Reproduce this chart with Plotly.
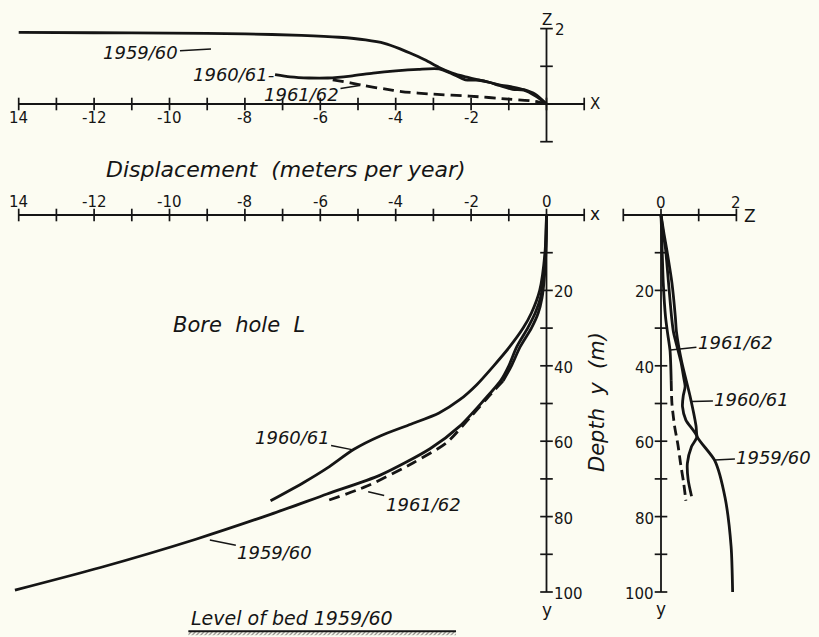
import plotly.graph_objects as go

INK = "#151515"
BG = "#FCFCF2"
FONT = "DejaVu Sans"

# ---------------- data ----------------
# Top panel: x (horizontal displacement) vs z (vertical displacement), m/yr
TOP_1959_X = [-14.0, -12.0, -10.0, -8.0, -6.5, -5.5, -4.8, -4.3, -3.9, -3.5, -3.2, -2.85, -2.5, -2.15, -1.8, -1.5, -1.25, -0.9, -0.6, -0.3, 0.0]
TOP_1959_Z = [1.90, 1.89, 1.88, 1.86, 1.82, 1.77, 1.70, 1.61, 1.47, 1.30, 1.16, 0.97, 0.82, 0.72, 0.64, 0.57, 0.51, 0.45, 0.38, 0.26, 0.0]
TOP_1960_X = [-7.2, -6.8, -6.3, -5.8, -5.2, -4.6, -4.0, -3.4, -2.85, -2.5, -2.15, -1.8, -1.5, -1.25, -0.9, -0.6, -0.3, 0.0]
TOP_1960_Z = [0.78, 0.72, 0.69, 0.69, 0.74, 0.82, 0.88, 0.92, 0.93, 0.80, 0.64, 0.63, 0.57, 0.49, 0.39, 0.37, 0.22, 0.0]
TOP_1961_X = [-5.67, -5.2, -4.86, -4.3, -3.85, -3.0, -2.05, -1.0, -0.3, 0.0]
TOP_1961_Z = [0.64, 0.56, 0.49, 0.40, 0.33, 0.26, 0.21, 0.13, 0.07, 0.0]

# Main panel: depth y (m) vs horizontal displacement x (m/yr)
MAIN_1959_D = [0, 8, 17, 22, 26, 30, 35, 40, 44, 49, 56, 62, 69, 74, 79.4, 86, 93.5, 99.5]
MAIN_1959_X = [0, -0.02, -0.08, -0.16, -0.30, -0.50, -0.79, -1.00, -1.22, -1.65, -2.30, -3.09, -4.41, -5.82, -7.32, -9.30, -11.83, -14.1]
MAIN_1960_D = [0, 10, 20, 26, 30, 35, 40, 45, 49, 52.5, 55.5, 58.6, 62.2, 67, 71, 75.8]
MAIN_1960_X = [0, -0.04, -0.18, -0.40, -0.62, -0.98, -1.40, -1.85, -2.30, -2.85, -3.60, -4.41, -5.12, -5.80, -6.45, -7.32]
MAIN_1961_D = [0, 8, 17, 22, 26, 30, 35, 40, 44]
MAIN_1961_X = [0, -0.01, -0.06, -0.12, -0.22, -0.40, -0.70, -0.93, -1.15]
MAIN_1961_DASH_D = [44, 47.2, 53.4, 60.4, 65.7, 71.9, 75.8]
MAIN_1961_DASH_X = [-1.15, -1.45, -2.00, -2.65, -3.53, -4.76, -5.82]

# Right panel: depth y (m) vs vertical displacement z (m/yr)
RIGHT_1959_D = [0, 5, 9, 18, 27, 31, 39, 48, 56, 58.8, 65.2, 75, 88, 100]
RIGHT_1959_Z = [0, 0.08, 0.15, 0.29, 0.38, 0.41, 0.55, 0.77, 0.93, 0.96, 1.43, 1.70, 1.86, 1.90]
RIGHT_1960_D = [0, 5, 9, 18, 27, 31, 39, 43, 45.5, 48, 50.8, 54.4, 58.8, 61.4, 65.8, 70.2, 74.6]
RIGHT_1960_Z = [0, 0.06, 0.12, 0.20, 0.28, 0.33, 0.53, 0.60, 0.64, 0.59, 0.57, 0.66, 0.95, 0.81, 0.70, 0.72, 0.81]
RIGHT_1961_D = [0, 5, 9, 18, 27, 31, 36, 44]
RIGHT_1961_Z = [0, 0.02, 0.03, 0.06, 0.12, 0.17, 0.24, 0.27]
RIGHT_1961_DASH_D = [44, 50, 56, 61, 66, 71, 75.8]
RIGHT_1961_DASH_Z = [0.27, 0.29, 0.36, 0.45, 0.52, 0.60, 0.66]

# Axes / ticks
X_TICKS = list(range(-14, 2))
TOP_X_LABEL_VALS = [-14, -12, -10, -8, -6, -4, -2]
TOP_X_LABELS = ["14", "-12", "-10", "-8", "-6", "-4", "-2"]
MAIN_X_LABEL_VALS = [-14, -12, -10, -8, -6, -4, -2, 0]
MAIN_X_LABELS = ["14", "-12", "-10", "-8", "-6", "-4", "-2", "0"]
Z_TICKS = [-1, 0, 1, 2]
DEPTH_TICKS = [10, 20, 30, 40, 50, 60, 70, 80, 90, 100]
DEPTH_LABEL_VALS = [20, 40, 60, 80, 100]
DEPTH_LABELS = ["20", "40", "60", "80", "100"]
BED_DEPTH = 110.4
BED_X = [-9.5, -2.4]

# ---------------- layout geometry (pixels) ----------------
W, H = 819, 637
S = 37.7                     # px per m/yr
DS = S / 10.0                # px per metre depth
OX_MAIN, OY_TOP, OY_MAIN, OX_RIGHT = 546.5, 104.0, 215.0, 661.0

fig = go.Figure()


def add_line(x, y, xa, ya, width=2.8, dash=None, spline=True):
    fig.add_trace(go.Scatter(
        x=x, y=y, mode="lines", xaxis=xa, yaxis=ya, cliponaxis=False,
        line=dict(color=INK, width=width, dash=dash,
                  shape="spline" if spline else "linear", smoothing=0.7),
        hoverinfo="skip", showlegend=False))


def add_ticks(x, y, xa, ya, symbol):
    fig.add_trace(go.Scatter(
        x=x, y=y, mode="markers", xaxis=xa, yaxis=ya, cliponaxis=False,
        marker=dict(symbol=symbol, size=9, color=INK, line=dict(color=INK, width=1.7)),
        hoverinfo="skip", showlegend=False))


anns = []


def label(text, x, y, xref, yref, size=15, italic=False, **kw):
    t = f"<i>{text}</i>" if italic else text
    d = dict(text=t, x=x, y=y, xref=xref, yref=yref, showarrow=False,
             xanchor="center", yanchor="middle",
             font=dict(family=FONT, size=size, color=INK))
    d.update(kw)
    anns.append(d)


def leader(text, x, y, xref, yref, ax, ay, size=18):
    anns.append(dict(text=f"<i>{text}</i>", x=x, y=y, xref=xref, yref=yref,
                     showarrow=True, arrowhead=0, arrowwidth=1.5, arrowcolor=INK,
                     ax=ax, ay=ay, standoff=0, borderpad=1,
                     font=dict(family=FONT, size=size, color=INK)))


# ----- top panel (x, y) -----
add_line([X_TICKS[0], X_TICKS[-1]], [0, 0], "x", "y", width=1.8, spline=False)
add_line([0, 0], [Z_TICKS[0], Z_TICKS[-1]], "x", "y", width=1.8, spline=False)
add_ticks(X_TICKS, [0] * len(X_TICKS), "x", "y", "line-ns")
add_ticks([0] * len(Z_TICKS), Z_TICKS, "x", "y", "line-ew")
add_line(TOP_1959_X, TOP_1959_Z, "x", "y")
add_line(TOP_1960_X, TOP_1960_Z, "x", "y")
add_line(TOP_1961_X, TOP_1961_Z, "x", "y", dash="11px,6px")
for v, t in zip(TOP_X_LABEL_VALS, TOP_X_LABELS):
    label(t, v, 0, "x", "y", yshift=-14)
label("Z", 0, Z_TICKS[-1], "x", "y", yshift=9)
label("2", 0, Z_TICKS[-1], "x", "y", xshift=13, yshift=-1)
label("X", X_TICKS[-1], 0, "x", "y", xshift=11)
leader("1959/60", -8.9, 1.46, "x", "y", -70, 4)
leader("1960/61-", TOP_1960_X[0], TOP_1960_Z[0], "x", "y", -42, 0)
leader("1961/62", -4.96, 0.49, "x", "y", -58, 9)

# ----- main panel (x, y2) -----
add_line([X_TICKS[0], X_TICKS[-1]], [0, 0], "x", "y2", width=1.8, spline=False)
add_line([0, 0], [0, DEPTH_TICKS[-1]], "x", "y2", width=1.8, spline=False)
add_ticks(X_TICKS, [0] * len(X_TICKS), "x", "y2", "line-ns")
add_ticks([0] * len(DEPTH_TICKS), DEPTH_TICKS, "x", "y2", "line-ew")
add_line(MAIN_1959_X, MAIN_1959_D, "x", "y2")
add_line(MAIN_1960_X, MAIN_1960_D, "x", "y2")
add_line(MAIN_1961_X, MAIN_1961_D, "x", "y2")
add_line(MAIN_1961_DASH_X, MAIN_1961_DASH_D, "x", "y2", dash="11px,6px")
for v, t in zip(MAIN_X_LABEL_VALS, MAIN_X_LABELS):
    label(t, v, 0, "x", "y2", yshift=13)
for v, t in zip(DEPTH_LABEL_VALS, DEPTH_LABELS):
    label(t, 0, v, "x", "y2", xanchor="left", xshift=5, yshift=-2)
label("x", X_TICKS[-1], 0, "x", "y2", xshift=11, yshift=1, size=17)
label("y", 0, DEPTH_TICKS[-1], "x", "y2", yshift=-18, size=17)
leader("1960/61", -5.13, 62.3, "x", "y2", -61, -12)
leader("1961/62", -4.73, 73.4, "x", "y2", 55, 13)
leader("1959/60", -8.93, 86.2, "x", "y2", 65, 13)

# bed level
fig.add_trace(go.Scatter(
    x=[BED_X[0], BED_X[1], BED_X[1], BED_X[0], BED_X[0]],
    y=[BED_DEPTH, BED_DEPTH, BED_DEPTH + 1.1, BED_DEPTH + 1.1, BED_DEPTH],
    mode="lines", fill="toself", line=dict(width=0, color=BG),
    fillcolor=BG, fillpattern=dict(shape="/", size=3, solidity=0.4, fgcolor=INK, bgcolor=BG),
    xaxis="x", yaxis="y2", hoverinfo="skip", showlegend=False))
add_line(BED_X, [BED_DEPTH, BED_DEPTH], "x", "y2", width=2, spline=False)

# ----- right panel (x3, y2) -----
add_line([Z_TICKS[0], Z_TICKS[-1]], [0, 0], "x3", "y2", width=1.8, spline=False)
add_line([0, 0], [0, DEPTH_TICKS[-1]], "x3", "y2", width=1.8, spline=False)
add_ticks(Z_TICKS, [0] * len(Z_TICKS), "x3", "y2", "line-ns")
add_ticks([0] * len(DEPTH_TICKS), DEPTH_TICKS, "x3", "y2", "line-ew")
add_line(RIGHT_1959_Z, RIGHT_1959_D, "x3", "y2")
add_line(RIGHT_1960_Z, RIGHT_1960_D, "x3", "y2")
add_line(RIGHT_1961_Z, RIGHT_1961_D, "x3", "y2")
add_line(RIGHT_1961_DASH_Z, RIGHT_1961_DASH_D, "x3", "y2", dash="10px,5px")
label("0", 0, 0, "x3", "y2", yshift=12)
label("2", 2, 0, "x3", "y2", yshift=12)
label("Z", 2, 0, "x3", "y2", xshift=14, yshift=-1, size=17)
for v, t in zip(DEPTH_LABEL_VALS, DEPTH_LABELS):
    label(t, 0, v, "x3", "y2", xanchor="right", xshift=-5, yshift=-2)
label("y", 0, DEPTH_TICKS[-1], "x3", "y2", yshift=-17, size=17)
leader("1961/62", 0.25, 35.8, "x3", "y2", 65, -7)
leader("1960/61", 0.82, 49.5, "x3", "y2", 60, -2)
leader("1959/60", 1.43, 65.0, "x3", "y2", 59, -3)

# ----- titles -----
label("Displacement  (meters per year)", 286 / W, 1 - 169 / H, "paper", "paper", size=22, italic=True)
label("Bore  hole  L", 239 / W, 1 - 325 / H, "paper", "paper", size=21, italic=True)
label("Depth  y  (m)", 597 / W, 1 - 402 / H, "paper", "paper", size=21, italic=True, textangle=-90)
label("Level of bed 1959/60", 292 / W, 1 - 618 / H, "paper", "paper", size=19, italic=True)

ax_common = dict(visible=False, showgrid=False, zeroline=False, fixedrange=True, domain=[0, 1])
fig.update_layout(
    width=W, height=H, autosize=False,
    margin=dict(l=0, r=0, t=0, b=0, pad=0),
    paper_bgcolor=BG, plot_bgcolor="rgba(0,0,0,0)",
    showlegend=False,
    xaxis=dict(**ax_common, anchor="y", range=[(0 - OX_MAIN) / S, (W - OX_MAIN) / S]),
    yaxis=dict(**ax_common, anchor="x", range=[(OY_TOP - H) / S, OY_TOP / S]),
    yaxis2=dict(**ax_common, anchor="x", overlaying="y", range=[(H - OY_MAIN) / DS, (0 - OY_MAIN) / DS]),
    xaxis3=dict(**ax_common, anchor="y2", overlaying="x", range=[(0 - OX_RIGHT) / S, (W - OX_RIGHT) / S]),
    annotations=anns,
)

fig.write_html("out.html")
